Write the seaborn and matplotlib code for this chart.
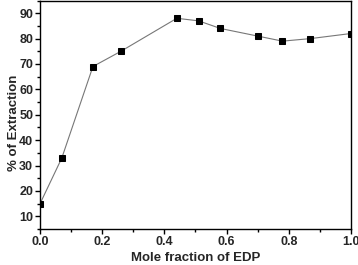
import matplotlib
matplotlib.use('Agg')
import matplotlib.pyplot as plt
import seaborn as sns
import pandas as pd
from matplotlib.ticker import MultipleLocator

# -----------------------------
# Data
# -----------------------------
mole_fraction = [0.0, 0.07, 0.17, 0.26, 0.44, 0.51, 0.58, 0.70, 0.78, 0.87, 1.0]
extraction = [15, 33, 69, 75, 88, 87, 84, 81, 79, 80, 82]

df = pd.DataFrame({'mole_fraction': mole_fraction, 'extraction': extraction})

sns.set_style('ticks')
plt.rcParams['font.family'] = ['Liberation Sans', 'DejaVu Sans']
plt.rcParams['font.weight'] = 'bold'

fig = plt.figure(figsize=(3.58, 2.65), dpi=100)
ax = fig.add_axes([0.112, 0.136, 0.868, 0.862])

sns.lineplot(x='mole_fraction', y='extraction', data=df, ax=ax,
             color='#777777', linewidth=0.8, marker='s', markersize=5,
             markerfacecolor='black', markeredgecolor='black')

ax.set_xlim(0, 1.0)
ax.set_ylim(5, 95)
ax.xaxis.set_major_locator(MultipleLocator(0.2))
ax.xaxis.set_minor_locator(MultipleLocator(0.1))
ax.yaxis.set_major_locator(MultipleLocator(10))
ax.yaxis.set_minor_locator(MultipleLocator(5))
ax.tick_params(which='major', direction='out', length=3.5, width=1, pad=1.5,
               labelsize=9, color='black')
ax.tick_params(which='minor', direction='out', length=2.5, width=1, color='black',
               bottom=True, left=True)
for s in ax.spines.values():
    s.set_linewidth(1)
    s.set_color('black')

ax.set_xlabel('Mole fraction of EDP', fontsize=9.5, fontweight='bold')
ax.set_ylabel('% of Extraction', fontsize=9.5, fontweight='bold')
ax.xaxis.set_label_coords(0.5, -0.1)
ax.yaxis.set_label_coords(-0.065, 0.465)
for lbl in ax.get_xticklabels() + ax.get_yticklabels():
    lbl.set_fontweight('bold')

fig.savefig('out.png', dpi=100)
